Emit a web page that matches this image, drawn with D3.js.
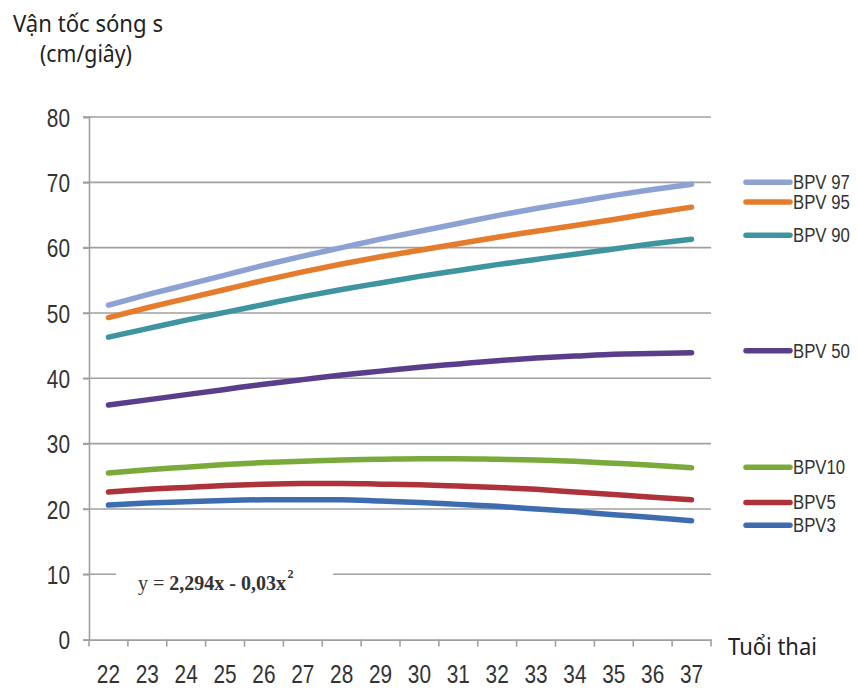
<!DOCTYPE html>
<html>
<head>
<meta charset="utf-8">
<script src="https://cdn.jsdelivr.net/npm/d3@7"></script>
<style>
  html, body { margin: 0; padding: 0; background: #fff; }
  svg { display: block; }
</style>
</head>
<body>
<svg id="chart" width="857" height="691"></svg>
<script>
// Gestational age (weeks)
const weeks = [22, 23, 24, 25, 26, 27, 28, 29, 30, 31, 32, 33, 34, 35, 36, 37];
const yTicks = [0, 10, 20, 30, 40, 50, 60, 70, 80];

// Percentile curves of wave velocity (cm/s)
const bpv97 = [51.2, 52.8, 54.3, 55.8, 57.3, 58.7, 60.0, 61.3, 62.5, 63.7, 64.9, 66.0, 67.0, 68.0, 68.9, 69.7];
const bpv95 = [49.3, 50.8, 52.2, 53.6, 55.0, 56.3, 57.5, 58.6, 59.6, 60.6, 61.6, 62.5, 63.4, 64.3, 65.3, 66.2];
const bpv90 = [46.3, 47.6, 48.9, 50.1, 51.3, 52.5, 53.6, 54.6, 55.6, 56.5, 57.4, 58.2, 59.0, 59.8, 60.6, 61.3];
const bpv50 = [35.9, 36.7, 37.5, 38.3, 39.1, 39.8, 40.5, 41.1, 41.7, 42.2, 42.7, 43.1, 43.4, 43.7, 43.8, 43.9];
const bpv10 = [25.5, 26.0, 26.4, 26.8, 27.1, 27.3, 27.5, 27.6, 27.7, 27.7, 27.6, 27.5, 27.3, 27.0, 26.7, 26.3];
const bpv5  = [22.6, 23.0, 23.3, 23.6, 23.8, 23.9, 23.9, 23.8, 23.7, 23.5, 23.3, 23.0, 22.6, 22.2, 21.8, 21.4];
const bpv3  = [20.6, 20.9, 21.1, 21.3, 21.4, 21.4, 21.4, 21.2, 21.0, 20.7, 20.4, 20.0, 19.6, 19.1, 18.7, 18.2];

const seriesNames = ["BPV 97", "BPV 95", "BPV 90", "BPV 50", "BPV10", "BPV5", "BPV3"];
const seriesValues = [bpv97, bpv95, bpv90, bpv50, bpv10, bpv5, bpv3];
const seriesColors = ["#8ea1d3", "#e57c2c", "#3f959f", "#5a3e8b", "#7aaa3a", "#ae323a", "#3e6daf"];
// legend anchor values (vertical placement of legend entries)
const legendValues = [70, 67, 61.9, 44.2, 26.4, 21.0, 17.5];

const svg = d3.select("#chart");
const sans = "'Liberation Sans', Arial, sans-serif";
const serif = "'Liberation Serif', 'Times New Roman', serif";
const humanist = "'Noto Sans', 'Open Sans', sans-serif";
const labelColor = "#333";
const gridColor = "#a0a0a0";

// condensed sans text: horizontal squeeze applied around the anchor point
const squeeze = 0.8;

const plotLeft = 89, plotRight = 711, plotTop = 117, plotBottom = 639.6;

const x = d3.scaleBand().domain(weeks).range([plotLeft, plotRight]);
const y = d3.scaleLinear().domain([0, 80]).range([plotBottom, plotTop]);

// Horizontal grid lines
svg.append("g")
  .selectAll("line")
  .data(yTicks.filter(d => d > 0))
  .join("line")
  .attr("x1", plotLeft - 6).attr("x2", plotRight)
  .attr("y1", d => y(d)).attr("y2", d => y(d))
  .attr("stroke", gridColor).attr("stroke-width", 1.6);

// Y axis
const yAxis = svg.append("g")
  .attr("transform", `translate(${plotLeft},0)`)
  .call(d3.axisLeft(y).tickValues(yTicks).tickSize(6));
yAxis.select(".domain").attr("stroke", gridColor).attr("stroke-width", 1.6);
yAxis.selectAll(".tick line").attr("stroke", gridColor).attr("stroke-width", 1.6);
yAxis.selectAll(".tick text")
  .attr("font-family", sans).attr("font-size", 26).attr("fill", labelColor)
  .attr("x", -19 / squeeze).attr("dy", "0.35em")
  .attr("transform", `scale(${squeeze},1)`);

// X axis with ticks between categories
const xAxis = svg.append("g")
  .attr("transform", `translate(0,${plotBottom})`)
  .call(d3.axisBottom(x).tickSize(0));
xAxis.select(".domain").attr("stroke", gridColor).attr("stroke-width", 1.6);
xAxis.selectAll(".tick text")
  .attr("font-family", sans).attr("font-size", 26).attr("fill", labelColor)
  .attr("y", 43.5).attr("dy", 0)
  .attr("transform", `scale(${squeeze},1)`);
svg.append("g")
  .selectAll("line")
  .data(d3.range(weeks.length + 1))
  .join("line")
  .attr("x1", i => plotLeft + i * x.step())
  .attr("x2", i => plotLeft + i * x.step())
  .attr("y1", plotBottom).attr("y2", plotBottom + 7)
  .attr("stroke", gridColor).attr("stroke-width", 1.6);

// Curves
const line = d3.line()
  .x((d, i) => x(weeks[i]) + x.bandwidth() / 2)
  .y(d => y(d))
  .curve(d3.curveMonotoneX);

svg.append("g")
  .selectAll("path")
  .data(seriesValues)
  .join("path")
  .attr("d", d => line(d))
  .attr("fill", "none")
  .attr("stroke", (d, i) => seriesColors[i])
  .attr("stroke-width", 5.5)
  .attr("stroke-linecap", "round");

// Legend
const legend = svg.append("g")
  .selectAll("g")
  .data(seriesNames)
  .join("g")
  .attr("transform", (d, i) => `translate(746,${y(legendValues[i])})`);
legend.append("line")
  .attr("x1", 0).attr("x2", 44)
  .attr("stroke", (d, i) => seriesColors[i])
  .attr("stroke-width", 5.5).attr("stroke-linecap", "round");
legend.append("text")
  .attr("x", 47 / 0.86).attr("dy", "0.36em")
  .attr("transform", "scale(0.86,1)")
  .attr("font-family", sans).attr("font-size", 19.5).attr("fill", labelColor)
  .text(d => d);

// Regression formula on a white box
svg.append("rect")
  .attr("x", 116).attr("y", y(10) - 16).attr("width", 217).attr("height", 32)
  .attr("fill", "#fff");
const formula = svg.append("text")
  .attr("x", 138).attr("y", 590)
  .attr("font-family", serif)
  .attr("font-size", 20).attr("fill", "#333");
formula.append("tspan").text("y = ");
formula.append("tspan").attr("font-weight", "bold").text("2,294x - 0,03x");
const formulaEnd = 138 + formula.node().getComputedTextLength();
svg.append("text")
  .attr("x", formulaEnd + 1.5).attr("y", 578)
  .attr("font-family", serif).attr("font-weight", "bold")
  .attr("font-size", 12).attr("fill", "#333")
  .text("2");

// Axis titles
function title(txt, xPos, yPos, len) {
  svg.append("text")
    .attr("x", xPos).attr("y", yPos)
    .attr("font-family", humanist).attr("font-size", 24).attr("fill", "#222")
    .attr("textLength", len).attr("lengthAdjust", "spacingAndGlyphs")
    .text(txt);
}
title("Vận tốc sóng s", 13, 32, 150);
title("(cm/giây)", 40, 62, 92);
title("Tuổi thai", 728, 655, 89);
</script>
</body>
</html>
